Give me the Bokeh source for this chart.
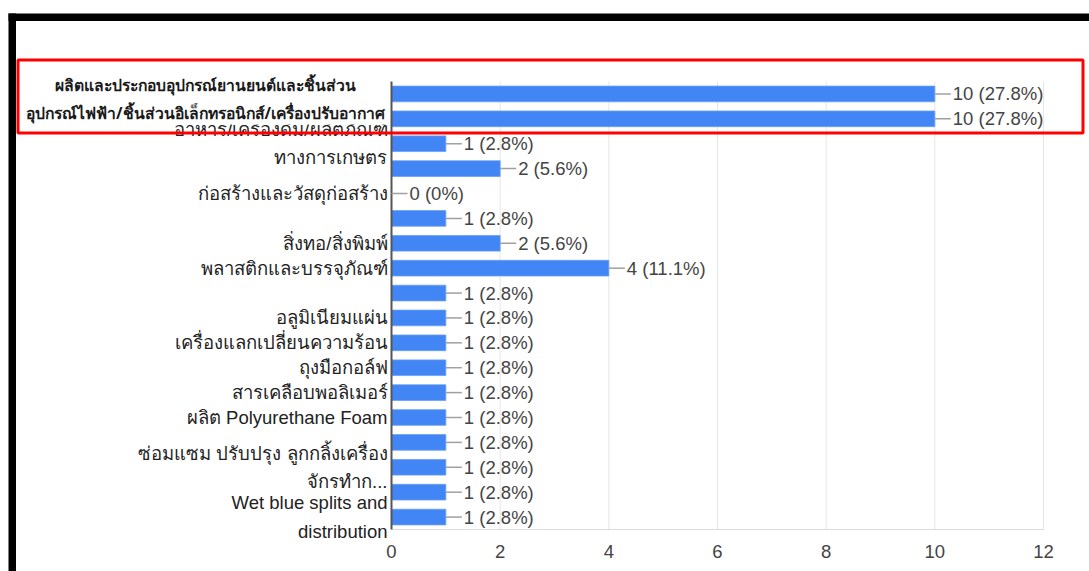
from bokeh.plotting import figure
from bokeh.models import Range1d, BoxAnnotation, Label, ColumnDataSource
from bokeh.embed import file_html
from bokeh.resources import INLINE
from bokeh.core.properties import value

# ---- data ----
categories = [
    "ผลิตและประกอบอุปกรณ์ยานยนต์และชิ้นส่วน",
    "อุปกรณ์ไฟฟ้า/ชิ้นส่วนอิเล็กทรอนิกส์/เครื่องปรับอากาศ",
    "อาหาร/เครื่องดื่ม/ผลิตภัณฑ์\nทางการเกษตร",
    "",
    "ก่อสร้างและวัสดุก่อสร้าง",
    "",
    "สิ่งทอ/สิ่งพิมพ์",
    "พลาสติกและบรรจุภัณฑ์",
    "",
    "อลูมิเนียมแผ่น",
    "เครื่องแลกเปลี่ยนความร้อน",
    "ถุงมือกอล์ฟ",
    "สารเคลือบพอลิเมอร์",
    "ผลิต Polyurethane Foam",
    "",
    "ซ่อมแซม ปรับปรุง ลูกกลิ้งเครื่อง\nจักรทำก...",
    "",
    "Wet blue splits and\ndistribution",
]
counts = [10, 10, 1, 2, 0, 1, 2, 4, 1, 1, 1, 1, 1, 1, 1, 1, 1, 1]
percents = ["27.8%", "27.8%", "2.8%", "5.6%", "0%", "2.8%", "5.6%", "11.1%", "2.8%",
            "2.8%", "2.8%", "2.8%", "2.8%", "2.8%", "2.8%", "2.8%", "2.8%", "2.8%"]
x_ticks = [0, 2, 4, 6, 8, 10, 12]
highlighted = [0, 1]  # rows whose labels appear in the red highlight box

# ---- derived ----
rows = list(range(1, len(counts) + 1))
value_labels = [f"{c} ({p})" for c, p in zip(counts, percents)]
src = ColumnDataSource(dict(y=rows, x=counts, lab=value_labels))

W, H = 1089, 571
# plot-area geometry (pixels) used to build the scales
PL, PR, PT, PB = 391, 1043, 81, 529
XMAX = x_ticks[-1]
NROW = len(rows)

def xd(px):
    return (px - PL) * XMAX / (PR - PL)

def yd(py):
    return 0.5 + (py - PT) * NROW / (PB - PT)

FONT = value("Liberation Sans")
FS = "18.5px"

p = figure(width=W, height=H, output_backend="svg", toolbar_location=None,
           x_range=Range1d(xd(0), xd(W)), y_range=Range1d(yd(H), yd(0)),
           x_axis_location=None, y_axis_location=None, min_border=0)
p.outline_line_color = None
p.background_fill_color = "white"
p.border_fill_color = "white"
for g in p.grid:
    g.visible = False

y_lo, y_hi = 0.5, NROW + 0.5

# vertical grid lines and baseline
p.segment(x0=x_ticks, x1=x_ticks, y0=[y_lo] * len(x_ticks), y1=[y_hi] * len(x_ticks),
          line_color="#e6e6e6", line_width=1)
p.segment(x0=[x_ticks[0]], x1=[x_ticks[-1]], y0=[y_hi], y1=[y_hi],
          line_color="#dcdcdc", line_width=1)

# bars
p.hbar(y="y", right="x", left=0, height=0.63, source=src,
       fill_color="#4285f4", line_color="#6a9ef6", line_width=0.8)

# left axis line
p.segment(x0=[0], x1=[0], y0=[y_lo], y1=[y_hi], line_color="#555555", line_width=2)

# connector + value labels
p.ray(x="x", y="y", length=16, length_units="screen", angle=0, source=src,
      line_color="#a0a0a0", line_width=1.5)
p.text(x="x", y="y", text="lab", source=src, x_offset=18,
       text_baseline="middle", text_align="left", text_font_size=FS,
       text_color="#444444", text_font=FONT)

# category labels (y axis)
shown = [r for r, c in zip(rows, categories) if c and (r - 1) not in highlighted]
p.text(x=[0] * len(shown), y=shown, text=[categories[r - 1] for r in shown], x_offset=-4,
       text_align="right", text_baseline="middle", text_font_size=FS,
       text_color="#222222", text_font=FONT, text_line_height=1.35)

# x tick labels
p.text(x=x_ticks, y=[y_hi] * len(x_ticks), text=[str(t) for t in x_ticks], y_offset=22,
       text_align="center", text_baseline="middle", text_font_size=FS,
       text_color="#444444", text_font=FONT)

# ---- overlay (screenshot frame & highlight) ----
p.add_layout(BoxAnnotation(left=xd(19), right=xd(388), top=yd(61), bottom=yd(124),
                           fill_color="white", fill_alpha=1, line_color=None))
p.add_layout(BoxAnnotation(left=xd(17.5), right=xd(1082.5), top=yd(59.5), bottom=yd(132.5),
                           fill_alpha=0, line_color="#ff0000", line_alpha=1, line_width=3))
p.add_layout(BoxAnnotation(left=xd(8), right=xd(W + 10), top=yd(13), bottom=yd(20.5),
                           fill_color="black", fill_alpha=1, line_color=None))
p.add_layout(BoxAnnotation(left=xd(8), right=xd(15.5), top=yd(13), bottom=yd(H + 10),
                           fill_color="black", fill_alpha=1, line_color=None))

for i, py in zip(highlighted, [84.5, 112]):
    p.add_layout(Label(x=xd(205), y=yd(py), text=categories[i], text_align="center",
                       text_baseline="middle", text_font_size="15.7px", text_font_style="bold",
                       text_color="#1a1a1a", text_font="Noto Sans"))

open("out.html", "w").write(file_html(p, INLINE))
